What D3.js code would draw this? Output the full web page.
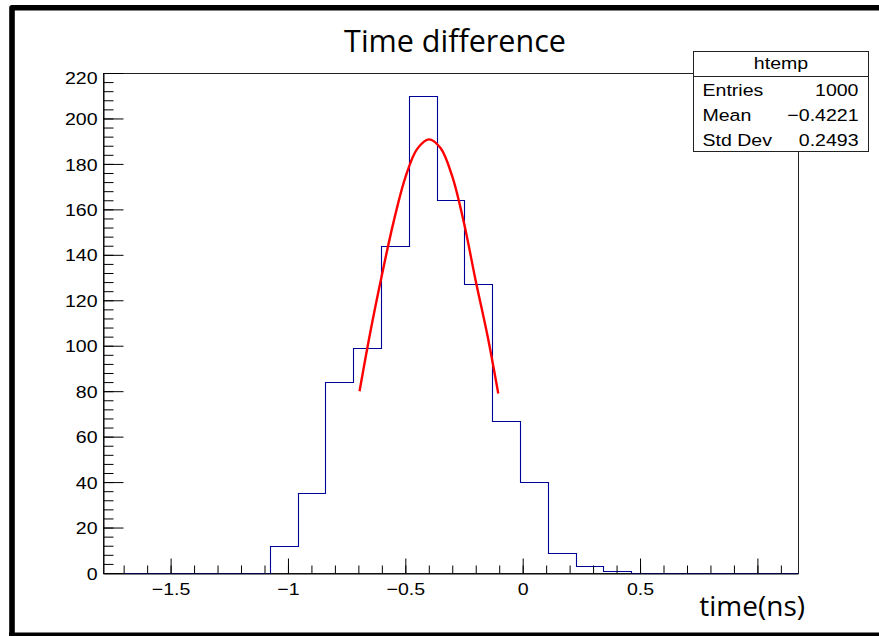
<!DOCTYPE html>
<html>
<head>
<meta charset="utf-8">
<script src="https://cdn.jsdelivr.net/npm/d3@7"></script>
<style>
  body { margin: 0; background: #fff; }
  svg { display: block; }
</style>
</head>
<body>
<div id="chart"></div>
<script>
"use strict";

// histogram htemp: 25 bins over the range below
var histRange = [-1.788, 1.173];
var binCounts = [0, 0, 0, 0, 0, 0, 12, 35, 84, 99, 144, 210, 164, 127, 67, 40, 9, 3, 1, 0, 0, 0, 0, 0, 0];

// red fit curve
var fitX = [-0.695, -0.65, -0.60, -0.55, -0.50, -0.45, -0.40, -0.35, -0.30, -0.25, -0.20, -0.15, -0.104];
var fitY = [80, 105.5, 131, 154.5, 174, 186.5, 190.8, 187, 174.5, 154, 128.5, 104.5, 79];

var xTicks = [-1.5, -1, -0.5, 0, 0.5, 1];
var xTickLabels = ["\u22121.5", "\u22121", "\u22120.5", "0", "0.5", ""];
var yTicks = [0, 20, 40, 60, 80, 100, 120, 140, 160, 180, 200, 220];

var statNames = ["Entries", "Mean", "Std Dev"];
var statValues = ["1000", "\u22120.4221", "0.2493"];

var W = 879, H = 636;
var frame = {left: 103, top: 73, right: 798, bottom: 573};
var FONT = "'Liberation Sans', Arial, sans-serif";
var SX = 1.15; // the labels in the picture are a bit wider than plain Helvetica

var svg = d3.select("#chart").append("svg")
    .attr("width", W)
    .attr("height", H);

var x = d3.scaleLinear().domain(histRange).range([frame.left, frame.right]);
var y = d3.scaleLinear().domain([0, 220]).range([frame.bottom, frame.top]);

// frame
svg.append("rect")
    .attr("x", frame.left + 0.5).attr("y", frame.top + 0.5)
    .attr("width", frame.right - frame.left).attr("height", frame.bottom - frame.top)
    .attr("fill", "none").attr("stroke", "#222").attr("stroke-width", 1);

// histogram outline
var binW = (histRange[1] - histRange[0]) / binCounts.length;
var pts = [[x(histRange[0]), y(0)]];
binCounts.forEach(function(c, i) {
    var x0 = x(histRange[0] + i * binW), x1 = x(histRange[0] + (i + 1) * binW);
    pts.push([x0, y(c)], [x1, y(c)]);
});
pts.push([x(histRange[1]), y(0)]);
svg.append("path")
    .attr("d", d3.line()(pts.map(function(p) { return [Math.round(p[0]) + 0.5, Math.round(p[1]) + 0.5]; })))
    .attr("fill", "none")
    .attr("stroke", "#000099")
    .attr("stroke-width", 1.1);

// fit curve
svg.append("path")
    .datum(fitX.map(function(v, i) { return [v, fitY[i]]; }))
    .attr("d", d3.line()
        .x(function(d) { return x(d[0]); })
        .y(function(d) { return y(d[1]); })
        .curve(d3.curveCatmullRom))
    .attr("fill", "none")
    .attr("stroke", "#ff0000")
    .attr("stroke-width", 2.4);

// y axis
var yAxis = svg.append("g")
    .attr("transform", "translate(" + (frame.left + 0.5) + ",0)")
    .call(d3.axisLeft(y).tickValues(yTicks).tickSizeInner(-20).tickSizeOuter(0).tickPadding(6));
svg.append("g")
    .attr("transform", "translate(" + (frame.left + 0.5) + ",0)")
    .call(d3.axisLeft(y).tickValues(d3.range(0, 221, 4)).tickSize(-10).tickFormat(""))
    .call(function(g) { g.select(".domain").remove(); });
yAxis.selectAll("text")
    .attr("dy", function(d) { return d === 220 ? "0.6em" : "0.36em"; });

// x axis
svg.append("g")
    .attr("transform", "translate(0," + (frame.bottom + 0.5) + ")")
    .call(d3.axisBottom(x).tickValues(xTicks).tickSizeInner(-15).tickSizeOuter(0).tickPadding(9)
        .tickFormat(function(d, i) { return xTickLabels[i]; }));
svg.append("g")
    .attr("transform", "translate(0," + (frame.bottom + 0.5) + ")")
    .call(d3.axisBottom(x).tickValues(x.ticks(30)).tickSize(-8).tickFormat(""))
    .call(function(g) { g.select(".domain").remove(); });

svg.selectAll(".tick line").attr("stroke", "#000");
svg.selectAll(".domain").attr("stroke", "#000");
svg.selectAll(".tick text")
    .attr("font-family", FONT)
    .attr("font-size", 17)
    .attr("fill", "#000")
    .attr("x", function() { return (+d3.select(this).attr("x") || 0) / SX; })
    .attr("transform", "scale(" + SX + ",1)");

// stats box
var box = {x: 693.5, y: 51.5, w: 175, rowH: 25};
var stats = svg.append("g");
stats.append("rect")
    .attr("x", box.x).attr("y", box.y)
    .attr("width", box.w).attr("height", box.rowH * 4)
    .attr("fill", "#fff").attr("stroke", "#222");
stats.append("line")
    .attr("x1", box.x).attr("x2", box.x + box.w)
    .attr("y1", box.y + box.rowH).attr("y2", box.y + box.rowH)
    .attr("stroke", "#222");

function boxText(tx, ty, anchor, size, s) {
    stats.append("text")
        .attr("transform", "translate(" + tx + "," + ty + ") scale(" + SX + ",1)")
        .attr("text-anchor", anchor)
        .attr("font-family", FONT)
        .attr("font-size", size)
        .text(s);
}
boxText(box.x + box.w / 2, box.y + 17, "middle", 17, "htemp");
statNames.forEach(function(name, i) {
    var by = box.y + box.rowH * (i + 1) + 19;
    boxText(box.x + 9, by, "start", 17, name);
    boxText(box.x + box.w - 10, by, "end", 17, statValues[i]);
});

// titles
svg.append("text")
    .attr("x", 455).attr("y", 52)
    .attr("text-anchor", "middle")
    .attr("font-family", "'Open Sans', 'Noto Sans', sans-serif")
    .attr("font-size", 30.5)
    .text("Time difference");
svg.append("text")
    .attr("x", 805).attr("y", 616)
    .attr("text-anchor", "end")
    .attr("font-family", "'Open Sans', 'Noto Sans', sans-serif")
    .attr("font-size", 28)
    .text("time(ns)");

// thick black picture border (top, left, bottom)
svg.append("path")
    .attr("d", "M" + W + ",7.7 L12,7.7 L12," + H)
    .attr("fill", "none").attr("stroke", "#000").attr("stroke-width", 5.6)
    .attr("stroke-linejoin", "round");
svg.append("rect")
    .attr("x", 9).attr("y", 632.5).attr("width", W - 9).attr("height", 4)
    .attr("fill", "#000");
</script>
</body>
</html>
